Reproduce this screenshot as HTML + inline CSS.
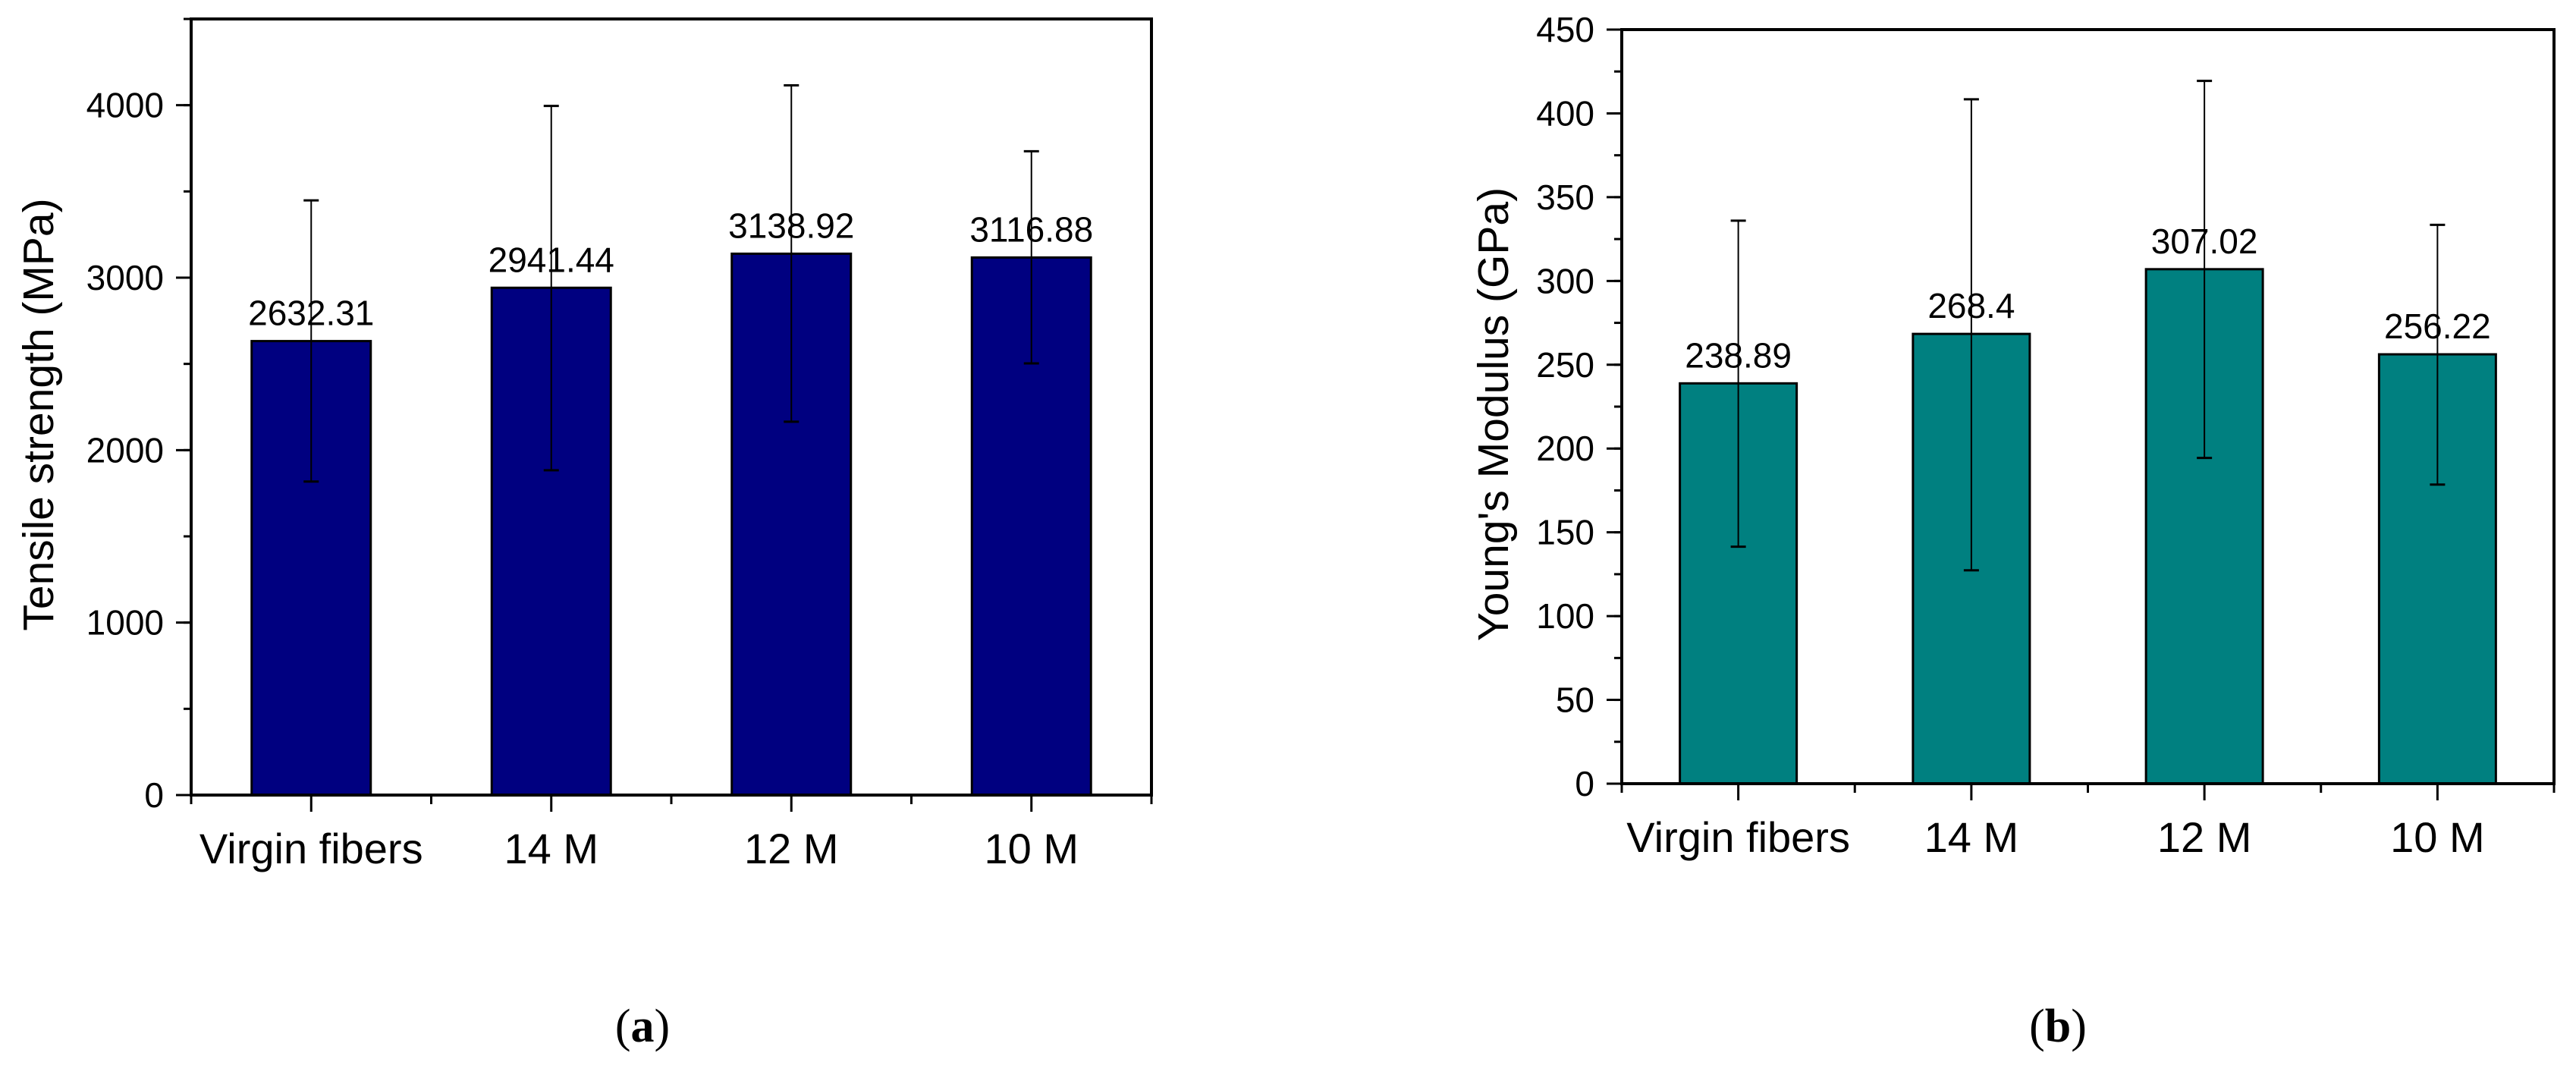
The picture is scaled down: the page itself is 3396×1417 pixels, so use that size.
<!DOCTYPE html>
<html><head><meta charset="utf-8"><style>
html,body{margin:0;padding:0;background:#fff}
svg{display:block}
text{font-family:"Liberation Sans",Arial,sans-serif;fill:#000}
</style></head><body>
<svg id="fig" width="3396" height="1417" viewBox="0 0 3396 1417" xmlns="http://www.w3.org/2000/svg">
<g id="chartA"></g>
<g id="chartB"></g>
<text x="847" y="1373" text-anchor="middle" style="font-family:'Liberation Serif',serif;font-size:62px">(<tspan font-weight="bold">a</tspan>)</text>
<text x="2713" y="1373" text-anchor="middle" style="font-family:'Liberation Serif',serif;font-size:62px">(<tspan font-weight="bold">b</tspan>)</text>
</svg>
<script>
const categories = ["Virgin fibers", "14 M", "12 M", "10 M"];
const tensileValues = [2632.31, 2941.44, 3138.92, 3116.88];
const tensileErrLow = [1818, 1883, 2165, 2503];
const tensileErrHigh = [3448, 3996, 4115, 3733];
const tensileLabels = ["2632.31", "2941.44", "3138.92", "3116.88"];
const tensileTicks = [0, 1000, 2000, 3000, 4000];
const modulusValues = [238.89, 268.4, 307.02, 256.22];
const modulusErrLow = [141.4, 127.3, 194.4, 178.5];
const modulusErrHigh = [336, 408.4, 419.4, 333.5];
const modulusLabels = ["238.89", "268.4", "307.02", "256.22"];
const modulusTicks = [0, 50, 100, 150, 200, 250, 300, 350, 400, 450];

const NS = "http://www.w3.org/2000/svg";
function mk(parent, tag, attrs, txt) {
  const e = document.createElementNS(NS, tag);
  for (const k in attrs) e.setAttribute(k, attrs[k]);
  if (txt !== undefined) e.textContent = txt;
  parent.appendChild(e);
  return e;
}

function drawChart(g, cfg) {
  const {x0, x1, y0, y1, ymax, vals, lo, hi, labels, ticks, minorStep, color, title, titleX, barW} = cfg;
  const n = categories.length;
  const sx = i => x0 + (x1 - x0) * (i + 0.5) / n;
  const sy = v => y0 - (y0 - y1) * v / ymax;

  vals.forEach((v, i) => {
    const r = mk(g, "rect", {x: sx(i) - barW / 2, y: sy(v), width: barW, height: y0 - sy(v), fill: color, stroke: "#000", "stroke-width": 3});
    
    
  });
  vals.forEach((v, i) => {
    const eg = mk(g, "g", {stroke: "#000", "stroke-width": 2});
    
    
    mk(eg, "line", {x1: sx(i), x2: sx(i), y1: sy(lo[i]), y2: sy(hi[i])});
    mk(eg, "line", {x1: sx(i) - 10, x2: sx(i) + 10, y1: sy(lo[i]), y2: sy(lo[i]), "stroke-width": 3});
    mk(eg, "line", {x1: sx(i) - 10, x2: sx(i) + 10, y1: sy(hi[i]), y2: sy(hi[i]), "stroke-width": 3});
  });
  vals.forEach((v, i) => {
    const t = mk(g, "text", {x: sx(i), y: sy(v) - 21, "text-anchor": "middle", "font-size": 46}, labels[i]);
    
    
  });
  const fr = mk(g, "rect", {x: x0, y: y1, width: x1 - x0, height: y0 - y1, fill: "none", stroke: "#000", "stroke-width": 4});
  
  
  for (let v = 0; v <= ymax + 1e-9; v += minorStep) {
    mk(g, "line", {x1: x0 - 10, x2: x0, y1: sy(v), y2: sy(v), stroke: "#000", "stroke-width": 3});
  }
  ticks.forEach(v => {
    mk(g, "line", {x1: x0 - 20, x2: x0, y1: sy(v), y2: sy(v), stroke: "#000", "stroke-width": 3});
    const t = mk(g, "text", {x: x0 - 36, y: sy(v) + 16, "text-anchor": "end", "font-size": 46}, String(v));
    
    
  });
  for (let i = 0; i <= n; i++) {
    const xb = x0 + (x1 - x0) * i / n;
    mk(g, "line", {x1: xb, x2: xb, y1: y0, y2: y0 + 12, stroke: "#000", "stroke-width": 3});
  }
  categories.forEach((c, i) => {
    mk(g, "line", {x1: sx(i), x2: sx(i), y1: y0, y2: y0 + 22, stroke: "#000", "stroke-width": 3});
    const t = mk(g, "text", {x: sx(i), y: y0 + 90, "text-anchor": "middle", "font-size": 56}, c);
    
    
  });
  const cy = (y0 + y1) / 2 + 10;
  const tt = mk(g, "text", {x: titleX, y: cy, "text-anchor": "middle", "font-size": 57, transform: `rotate(-90 ${titleX} ${cy})`, dy: 20}, title);
  
  
}

drawChart(document.getElementById("chartA"), {
  x0: 252, x1: 1518, y0: 1048, y1: 25, ymax: 4500,
  vals: tensileValues, lo: tensileErrLow, hi: tensileErrHigh, labels: tensileLabels,
  ticks: tensileTicks, minorStep: 500, color: "#000080",
  title: "Tensile strength (MPa)", titleX: 50, barW: 157
});
drawChart(document.getElementById("chartB"), {
  x0: 2138, x1: 3367, y0: 1033, y1: 39, ymax: 450,
  vals: modulusValues, lo: modulusErrLow, hi: modulusErrHigh, labels: modulusLabels,
  ticks: modulusTicks, minorStep: 25, color: "#008080",
  title: "Young's Modulus (GPa)", titleX: 1968, barW: 154
});
</script>
</body></html>
